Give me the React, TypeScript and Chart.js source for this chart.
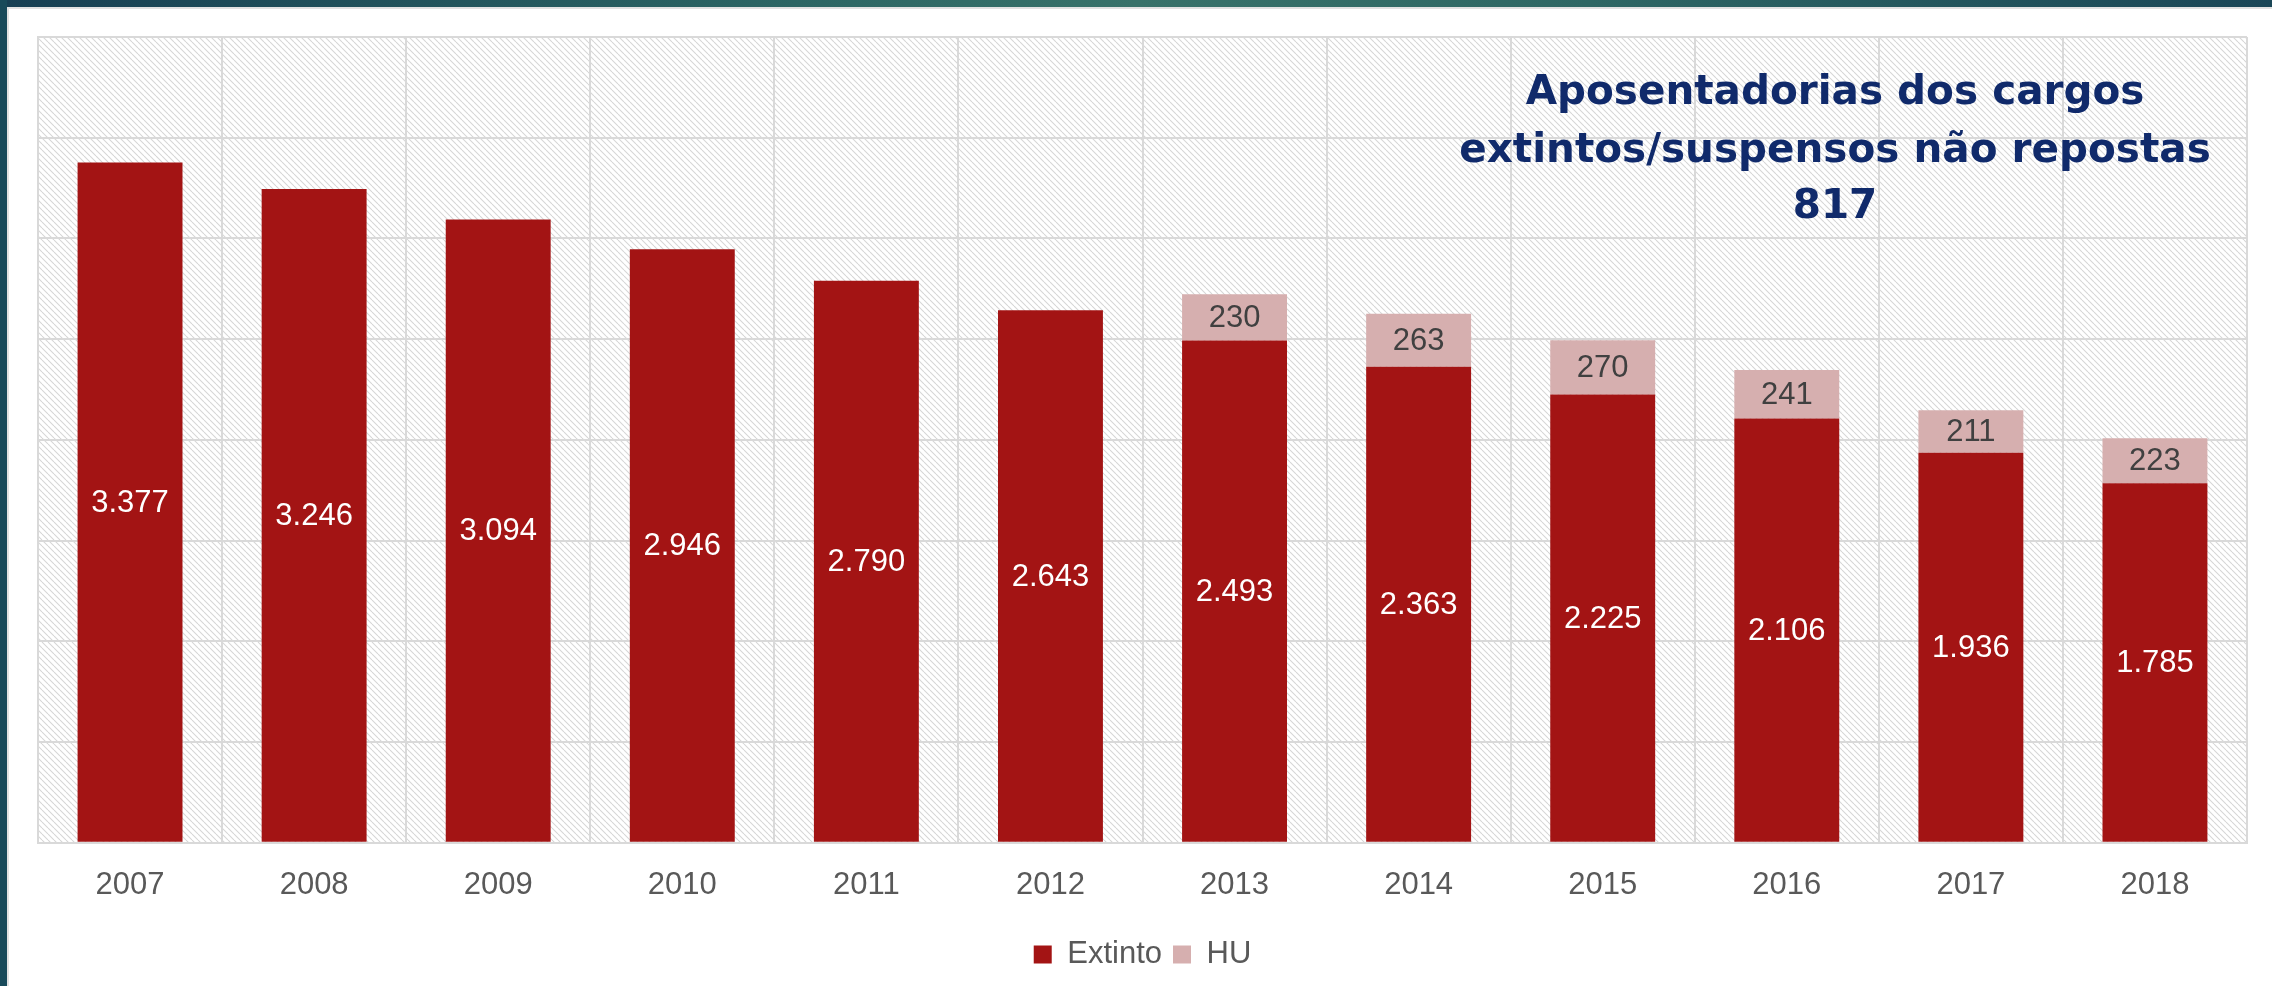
import React, { useEffect, useRef } from "react";
import { Chart, registerables } from "chart.js";

Chart.register(...registerables);

const categories = ["2007", "2008", "2009", "2010", "2011", "2012", "2013", "2014", "2015", "2016", "2017", "2018"];
const extinto = [3377, 3246, 3094, 2946, 2790, 2643, 2493, 2363, 2225, 2106, 1936, 1785];
const hu = [null, null, null, null, null, null, 230, 263, 270, 241, 211, 223];
const titleLines = ["Aposentadorias dos cargos", "extintos/suspensos não repostas", "817"];

const fmt = (v: number) => String(v).replace(/\B(?=(\d{3})+(?!\d))/g, ".");

function makePattern(ctx: CanvasRenderingContext2D) {
  const p = 6;
  const pc = document.createElement("canvas");
  pc.width = p;
  pc.height = p;
  const c = pc.getContext("2d")!;
  c.strokeStyle = "#d6d6d6";
  c.lineWidth = 1.1;
  for (const k of [-p, 0, p]) {
    c.beginPath();
    c.moveTo(k, 0);
    c.lineTo(k + p, p);
    c.stroke();
  }
  return ctx.createPattern(pc, "repeat");
}

export default function App() {
  const ref = useRef<HTMLCanvasElement>(null);
  useEffect(() => {
    const canvas = ref.current!;
    const ctx0 = canvas.getContext("2d")!;
    const pattern = makePattern(ctx0);

    const bgPlugin = {
      id: "hatchBg",
      beforeDraw(chart: any) {
        const { ctx, chartArea } = chart;
        ctx.save();
        ctx.fillStyle = pattern;
        ctx.fillRect(chartArea.left, chartArea.top, chartArea.right - chartArea.left, chartArea.bottom - chartArea.top);
        ctx.restore();
      },
    };

    const labelPlugin = {
      id: "barLabels",
      afterDatasetsDraw(chart: any) {
        const ctx = chart.ctx;
        ctx.save();
        ctx.font = '31px "Liberation Sans"';
        ctx.textAlign = "center";
        ctx.textBaseline = "middle";
        chart.data.datasets.forEach((ds: any, i: number) => {
          const meta = chart.getDatasetMeta(i);
          ctx.fillStyle = i === 0 ? "#ffffff" : "#404040";
          meta.data.forEach((bar: any, j: number) => {
            const v = ds.data[j];
            if (v == null) return;
            const { x, y, base } = bar.getProps(["x", "y", "base"], true);
            ctx.fillText(fmt(v), x, (y + base) / 2 + 1);
          });
        });
        ctx.restore();
      },
    };

    const titlePlugin = {
      id: "innerTitle",
      afterDraw(chart: any) {
        const ctx = chart.ctx;
        ctx.save();
        ctx.font = 'bold 40.5px "DejaVu Sans"';
        ctx.fillStyle = "#102a6b";
        ctx.textAlign = "center";
        ctx.textBaseline = "middle";
        const ys = [93, 151, 207];
        titleLines.forEach((t, i) => ctx.fillText(t, 1835, ys[i]));
        ctx.restore();
      },
    };

    const chart = new Chart(canvas, {
      type: "bar",
      data: {
        labels: categories,
        datasets: [
          { label: "Extinto", data: extinto, backgroundColor: "#a31414", borderWidth: 0 },
          { label: "HU", data: hu as any, backgroundColor: "#d6afaf", borderWidth: 0 },
        ],
      },
      options: {
        responsive: false,
        animation: false,
        devicePixelRatio: 1,
        layout: { padding: { left: 38, right: 25, top: 37, bottom: 6 } },
        datasets: { bar: { categoryPercentage: 1, barPercentage: 0.57 } },
        scales: {
          x: {
            stacked: true,
            grid: { color: "#d9d9d9", lineWidth: 2, drawTicks: false, offset: true },
            border: { color: "#d9d9d9", width: 2 },
            ticks: { color: "#595959", font: { family: "Liberation Sans", size: 31 }, padding: 24 },
          },
          y: {
            stacked: true,
            min: 0,
            max: 4000,
            ticks: { display: false, stepSize: 500 },
            grid: { color: "#d9d9d9", lineWidth: 2, drawTicks: false },
            border: { color: "#d9d9d9", width: 2 },
          },
        },
        plugins: {
          tooltip: { enabled: false },
          title: { display: false },
          legend: {
            position: "bottom",
            labels: {
              color: "#595959",
              font: { family: "Liberation Sans", size: 31 },
              boxWidth: 18,
              boxHeight: 18,
              padding: 11,
            },
          },
        },
      },
      plugins: [bgPlugin, labelPlugin, titlePlugin],
    });
    return () => chart.destroy();
  }, []);

  return (
    <div style={{ position: "fixed", left: 0, top: 0, width: 2272, height: 986, background: "#fff", overflow: "hidden" }}>
      <canvas ref={ref} width={2272} height={986} style={{ position: "absolute", left: 0, top: 0, width: 2272, height: 986 }} />
      <div style={{ position: "absolute", left: 0, top: 0, width: 2272, height: 7, background: "linear-gradient(90deg, #173f53 0%, #2c6664 35%, #38726a 50%, #2e6764 70%, #1a4657 100%)" }} />
      <div style={{ position: "absolute", left: 8, top: 7, width: 2264, height: 2, background: "#e2e2e2" }} />
      <div style={{ position: "absolute", left: 0, top: 0, width: 7, height: 986, background: "#184a5a" }} />
      <div style={{ position: "absolute", left: 7, top: 7, width: 2, height: 979, background: "#e2e2e2" }} />
    </div>
  );
}
